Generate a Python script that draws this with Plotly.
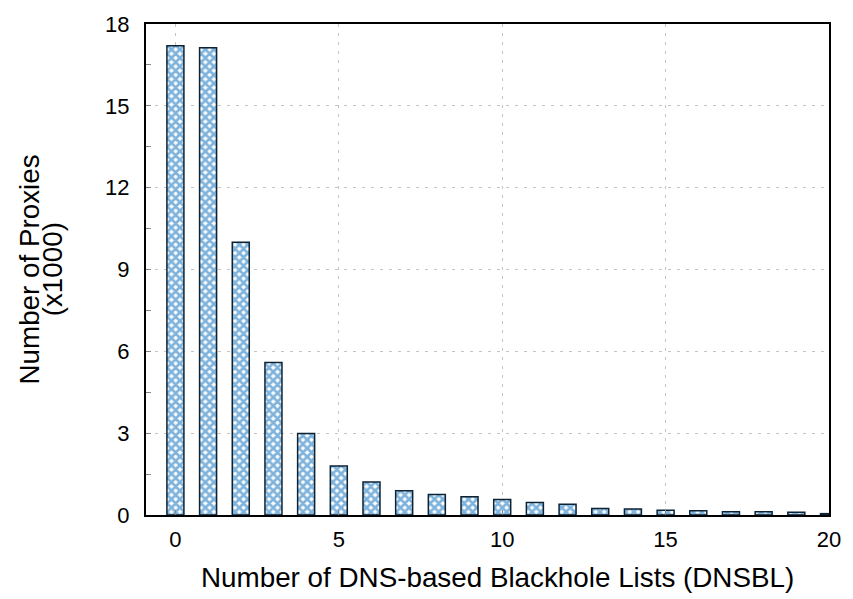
import plotly.graph_objects as go

# Number of DNSBLs a proxy is listed on, and proxy counts (thousands)
dnsbl_counts = list(range(0, 21))
proxies_k = [17.2, 17.13, 10.0, 5.59, 2.99, 1.80, 1.21, 0.89, 0.75, 0.67,
             0.57, 0.46, 0.39, 0.24, 0.22, 0.17, 0.16, 0.12, 0.12, 0.10, 0.05]

y_ticks = [0, 3, 6, 9, 12, 15, 18]
x_ticks = [0, 5, 10, 15, 20]
x_title = "Number of DNS-based Blackhole Lists (DNSBL)"
y_title_lines = ["Number of Proxies", "(x1000)"]

FONT = "Liberation Sans, Arial, Helvetica, sans-serif"
TICK_SIZE = 22
TITLE_SIZE = 27.8

W, H = 853, 599
M_L, M_R, M_T, M_B = 146, 18, 16, 84
plot_w = W - M_L - M_R
plot_h = H - M_T - M_B

fig = go.Figure(
    go.Bar(
        x=dnsbl_counts,
        y=proxies_k,
        width=0.52,
        marker=dict(
            color="white",
            line=dict(color="#0d2233", width=1.5),
            pattern=dict(shape="x", fgcolor="#0068ba", bgcolor="white",
                         size=6, solidity=0.7, fillmode="overlay"),
        ),
        showlegend=False,
    )
)

axis_common = dict(
    showline=True, linecolor="black", linewidth=2, mirror=True,
    showgrid=True, gridcolor="#c4c4c4", griddash="3px,6px", gridwidth=1.2,
    zeroline=False, ticks="inside", ticklen=5, tickcolor="#888888",
    tickfont=dict(family=FONT, size=TICK_SIZE, color="black"),
)

fig.update_xaxes(
    range=[-0.9, 20], tickmode="array", tickvals=x_ticks,
    ticklabelstandoff=4,
    **axis_common,
)
fig.update_yaxes(
    range=[0, 18], tickmode="array", tickvals=y_ticks,
    minor=dict(tickvals=[1.5, 4.5, 7.5, 10.5, 13.5, 16.5], ticks="inside",
               ticklen=5, tickcolor="#888888", showgrid=False),
    ticklabelstandoff=10,
    **axis_common,
)

# x-axis title
fig.add_annotation(
    text=x_title, showarrow=False,
    xref="paper", yref="paper",
    x=(501 - M_L) / plot_w, y=(H - M_B - 579) / plot_h,
    xanchor="center", yanchor="middle",
    font=dict(family=FONT, size=TITLE_SIZE, color="black"),
)

# Two-line y-axis title, set with tight line spacing
for text, px in zip(y_title_lines, [28, 52]):
    fig.add_annotation(
        text=text, textangle=-90, showarrow=False,
        xref="paper", yref="paper", x=(px - M_L) / plot_w, y=0.5,
        xanchor="center", yanchor="middle",
        font=dict(family=FONT, size=TITLE_SIZE, color="black"),
    )

fig.update_layout(
    width=W, height=H,
    margin=dict(l=M_L, r=M_R, t=M_T, b=M_B),
    plot_bgcolor="white", paper_bgcolor="white",
    font=dict(family=FONT, color="black"),
)

fig.write_html("out.html")
